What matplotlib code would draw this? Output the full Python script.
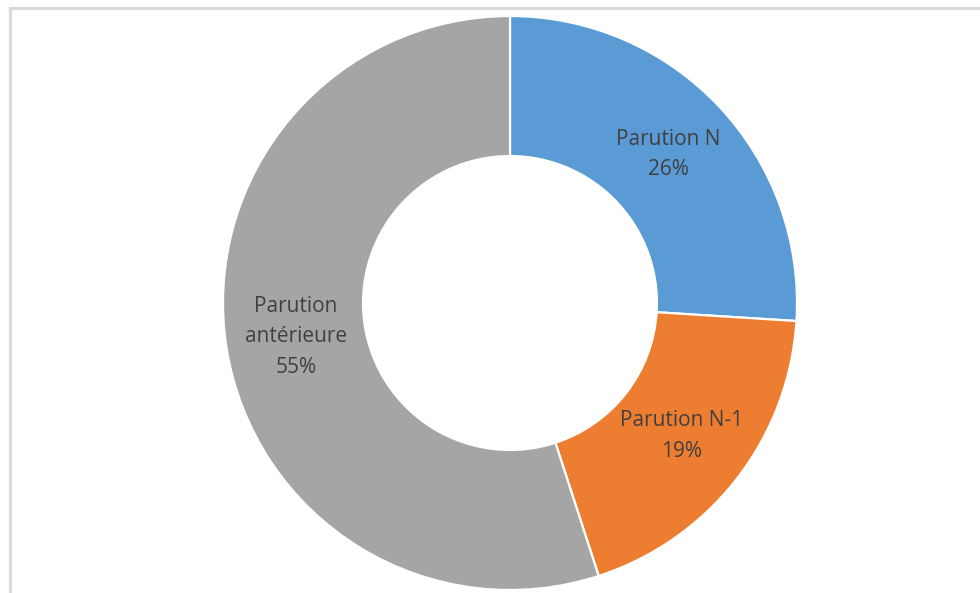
import matplotlib.pyplot as plt
from matplotlib.lines import Line2D

#Data-------------------------------------------------

labels = ["Parution N", "Parution N-1", "Parution antérieure"]
labelsShown = ["Parution N", "Parution N-1", "Parution\nantérieure"]
values = [26, 19, 55]
colors = ["#5B9BD5", "#ED7D31", "#A5A5A5"]

#Figure-----------------------------------------------

W, H = 980, 593
fig = plt.figure(figsize=(W / 100, H / 100), dpi=100)

cx, cy, r = 510, 303, 287
ax = fig.add_axes([(cx - r) / W, (H - cy - r) / H, 2 * r / W, 2 * r / H])

wedges, texts, autotexts = ax.pie(values, colors=colors, startangle=90, counterclock=False,
                                  radius=1, autopct='%1.0f%%', pctdistance=0.756,
                                  wedgeprops=dict(width=0.488, edgecolor='white', linewidth=1.6),
                                  textprops=dict(color='#404040', fontsize=15, family='Open Sans',
                                                 linespacing=1.62))
for t, name in zip(autotexts, labelsShown):
    t.set_text(name + "\n" + t.get_text())
    t.set_ha('center')
    t.set_va('center')

ax.set_xlim(-1, 1)
ax.set_ylim(-1, 1)
ax.set_aspect('equal')
ax.axis('off')

# chart frame (only top and left visible)
fig.add_artist(Line2D([9.5 / W, 9.5 / W], [0, 1 - 7.5 / H], color='#d9d9d9', lw=2.2,
                      transform=fig.transFigure))
fig.add_artist(Line2D([9.5 / W, 1], [1 - 7.5 / H, 1 - 7.5 / H], color='#d9d9d9', lw=2.2,
                      transform=fig.transFigure))

fig.savefig("out.png", dpi=100, facecolor='white')
